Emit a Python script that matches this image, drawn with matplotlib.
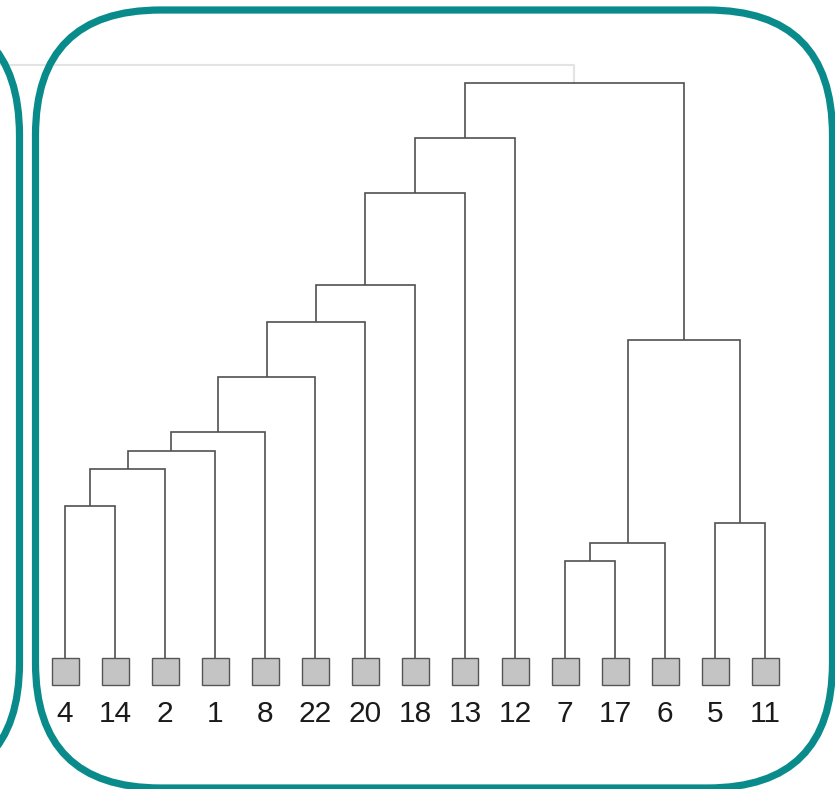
import numpy as np
import matplotlib.pyplot as plt
from matplotlib.patches import FancyBboxPatch, Rectangle

plt.rcParams['font.family'] = ['Liberation Sans', 'DejaVu Sans']

# leaf labels in display order
leaf_labels = ['4', '14', '2', '1', '8', '22', '20', '18', '13', '12', '7', '17', '6', '5', '11']
# merges, linkage style: ids < 15 are leaves (by position), 15+k is k-th merge
merge_left = [0, 15, 16, 17, 18, 19, 20, 21, 22, 10, 24, 13, 25, 23]
merge_right = [1, 2, 3, 4, 5, 6, 7, 8, 9, 11, 12, 14, 26, 27]
merge_height = [1.52, 1.89, 2.07, 2.26, 2.81, 3.36, 3.73, 4.65, 5.20, 0.97, 1.15, 1.35, 3.18, 5.75]
parent_height = 5.93  # faded link above the root

W, H = 835, 789
fig = plt.figure(figsize=(W / 100, H / 100), dpi=100)

# dendrogram layer
ax = fig.add_axes([40 / W, (H - 758) / H, 750 / W, 700 / H])
ax.set_xlim(-0.5, 14.5)
ax.set_ylim(-1.0, 6.0)
ax.axis('off')
ax.set_zorder(0)

n = len(leaf_labels)
xpos = {i: float(i) for i in range(n)}
ypos = {i: 0.0 for i in range(n)}
lc = '#505050'
for k, (a, b, h) in enumerate(zip(merge_left, merge_right, merge_height)):
    xa, xb = xpos[a], xpos[b]
    ax.plot([xa, xa, xb, xb], [ypos[a], h, h, ypos[b]], color=lc, lw=1.2,
            solid_joinstyle='miter', solid_capstyle='butt')
    xpos[n + k] = (xa + xb) / 2
    ypos[n + k] = h

root = n + len(merge_height) - 1
# faded link to the (hidden) parent
ax.plot([xpos[root], xpos[root], -2.0], [ypos[root], parent_height, parent_height],
        color='#e3e3e3', lw=1.5, clip_on=False, zorder=0)

for i, lab in enumerate(leaf_labels):
    ax.add_patch(Rectangle((i - 0.27, -0.27), 0.54, 0.27, facecolor='#c4c4c4',
                           edgecolor='#555555', lw=1.0, zorder=3))
    ax.text(i, -0.555, lab, ha='center', va='center', fontsize=21.5, color='#1a1a1a')

# framing boxes on top, in pixel units
bg = fig.add_axes([0, 0, 1, 1])
bg.set_xlim(0, W)
bg.set_ylim(H, 0)
bg.axis('off')
bg.set_zorder(1)
teal = '#0a8b8b'
bg.add_patch(FancyBboxPatch((35.5, 10), 797, 778, boxstyle='round,pad=0,rounding_size=125',
                            fill=False, edgecolor=teal, linewidth=5.2, clip_on=False))
bg.add_patch(FancyBboxPatch((-600, 10), 619.5, 778, boxstyle='round,pad=0,rounding_size=125',
                            fill=False, edgecolor=teal, linewidth=5.2, clip_on=False))

fig.savefig('out.png', dpi=100)
